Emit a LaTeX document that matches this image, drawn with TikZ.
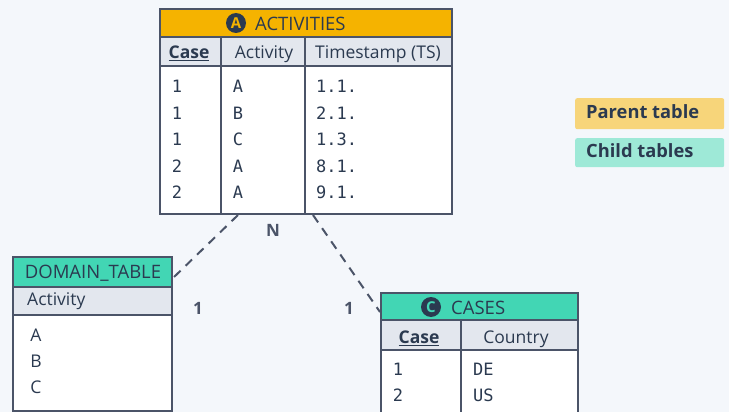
\documentclass[tikz,border=0pt]{standalone}
\usepackage{fontspec}
\setmainfont{Open Sans}
\newfontfamily\monof{DejaVu Sans Mono}
\definecolor{bgc}{HTML}{F4F7FB}
\definecolor{frame}{HTML}{4B5468}
\definecolor{ink}{HTML}{2B3A50}
\definecolor{ylw}{HTML}{F5B300}
\definecolor{teal}{HTML}{42D6B4}
\definecolor{colhd}{HTML}{E3E7EE}
\definecolor{lylw}{HTML}{F7D57A}
\definecolor{lteal}{HTML}{9EE9D7}
\tikzset{
  fr/.style={draw=frame,line width=2.2pt},
  dv/.style={draw=frame,line width=2pt},
  txt/.style={text=ink,font=\fontsize{17.5}{19}\selectfont,inner sep=0pt,anchor=base},
  bld/.style={text=ink,font=\bfseries\fontsize{17.5}{19}\selectfont,inner sep=0pt,anchor=base},
  mono/.style={text=ink,font=\monof\fontsize{17}{19}\selectfont,inner sep=0pt,anchor=base},
  hdr/.style={text=ink,font=\fontsize{18.5}{20}\selectfont,inner sep=0pt,anchor=base},
  badge/.style={circle,fill=ink,minimum size=20pt,inner sep=0pt,font=\bfseries\fontsize{15}{16}\selectfont},
  lab/.style={text=frame,font=\bfseries\fontsize{17}{19}\selectfont,inner sep=0pt,anchor=base},
  leg/.style={rounded corners=2pt,anchor=north west,minimum width=149pt,inner sep=0pt},
  legt/.style={text=ink,font=\bfseries\fontsize{18.3}{20}\selectfont,inner sep=0pt,anchor=base west},
  conn/.style={draw=frame,line width=2pt,dash pattern=on 9pt off 7pt}
}
\begin{document}
\begin{tikzpicture}[x=1pt,y=-1pt]
\fill[bgc] (0,0) rectangle (729,412);
\useasboundingbox (0,0) rectangle (729,412);
\clip (0,0) rectangle (729,412);
% ACTIVITIES
\fill[white] (159,8) rectangle (451,213);
\fill[ylw] (159,8) rectangle (451,37);
\fill[colhd] (159,37) rectangle (451,66);
\draw[dv] (159,37) -- (451,37);
\draw[dv] (159,66) -- (451,66);
\draw[dv] (221,37) -- (221,213);
\draw[dv] (305,37) -- (305,213);
\node[fr,anchor=north west,minimum width=292pt,minimum height=205pt,inner sep=0pt] (act) at (159,8) {};
\node[badge,text=ylw] (ba) at (236,23) {A};
\node[hdr,anchor=base west] (acth) at (255,30.5) {ACTIVITIES};
\node[bld] (c1) at (189,59) {\underline{Case}};
\node[txt] (c2) at (264,59) {Activity};
\node[txt] (c3) at (378,59) {Timestamp (TS)};
\foreach \y/\a/\b/\c [count=\i] in {93/1/A/1.1.,119/1/B/2.1.,145.5/1/C/1.3.,172/2/A/8.1.,198/2/A/9.1.}{
  \node[mono] (ra\i) at (177,\y) {\a};
  \node[mono] (rb\i) at (238,\y) {\b};
  \node[mono,anchor=base west] (rc\i) at (316,\y) {\c};
}
% DOMAIN_TABLE
\fill[white] (12,256) rectangle (171,410);
\fill[teal] (12,256) rectangle (171,287);
\fill[colhd] (12,287) rectangle (171,315);
\draw[dv] (12,287) -- (171,287);
\draw[dv] (12,315) -- (171,315);
\node[fr,anchor=north west,minimum width=159pt,minimum height=154pt,inner sep=0pt] (dom) at (12,256) {};
\node[hdr] (domh) at (93,278.5) {DOMAIN\_TABLE};
\node[txt,anchor=base west] (dc) at (27,305.5) {Activity};
\node[txt] (d1) at (36,341) {A};
\node[txt] (d2) at (36,367.3) {B};
\node[txt] (d3) at (36,393.7) {C};
% CASES
\fill[white] (380,292) rectangle (577,440);
\fill[teal] (380,292) rectangle (577,320);
\fill[colhd] (380,320) rectangle (577,350);
\draw[dv] (380,320) -- (577,320);
\draw[dv] (380,350) -- (577,350);
\draw[dv] (461,320) -- (461,440);
\node[fr,anchor=north west,minimum width=197pt,minimum height=148pt,inner sep=0pt] (cas) at (380,292) {};
\node[badge,text=teal] (bc) at (431,307) {C};
\node[hdr,anchor=base west] (cash) at (451,314.3) {CASES};
\node[bld] (k1) at (419,343.3) {\underline{Case}};
\node[txt] (k2) at (516,343.3) {Country};
\node[mono] (k11) at (398,375) {1};
\node[mono] (k21) at (398,401) {2};
\node[mono,anchor=base west] (k12) at (473,375) {DE};
\node[mono,anchor=base west] (k22) at (473,401) {US};
% legend
\node[leg,fill=lylw,minimum height=31pt] (lp) at (575,98) {};
\node[legt] (lpt) at (586,118.3) {Parent table};
\node[leg,fill=lteal,minimum height=29pt] (lc) at (575,138) {};
\node[legt] (lct) at (586,157.7) {Child tables};
% connectors
\coordinate (a1) at (238,215);
\coordinate (a2) at (313,215);
\coordinate (d0) at (173,278);
\coordinate (c0) at (380,312);
\draw[conn] (a1) -- (d0);
\draw[conn] (a2) -- (c0);
\node[lab] (ln) at (273,236) {N};
\node[lab] (l1) at (198,314.3) {1};
\node[lab] (l2) at (349,314.3) {1};
\end{tikzpicture}
\end{document}
